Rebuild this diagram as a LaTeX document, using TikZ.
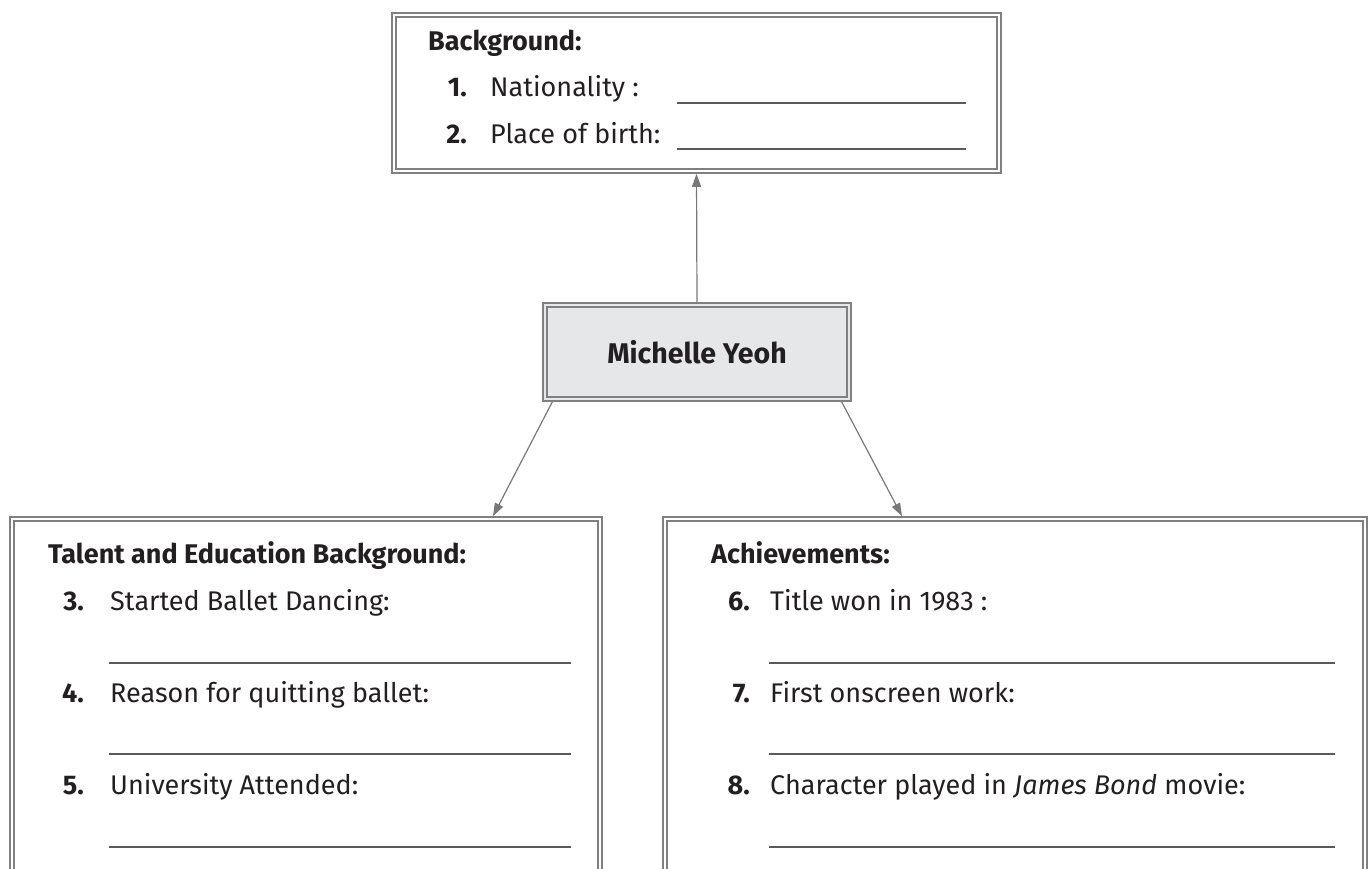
\documentclass[tikz,border=0pt]{standalone}
\usepackage{fontspec}
\setmainfont{Fira Sans}
\usetikzlibrary{arrows.meta}
\definecolor{framegray}{RGB}{128,128,130}
\definecolor{hubfill}{RGB}{230,231,232}
\definecolor{inkblack}{RGB}{35,31,32}
\definecolor{rulegray}{RGB}{90,90,92}
\definecolor{arrowgray}{RGB}{120,120,122}
\newcommand{\sheetsize}{\fontsize{27}{32}\selectfont}
\tikzset{
panel/.style={draw=framegray, line width=1.8pt, double=white, double distance=2pt, outer sep=2.8pt, inner sep=0pt}, % double frame round each box
hubbox/.style={panel, double=hubfill, fill=hubfill, text=inkblack}, % the name in the middle
link/.style={draw=arrowgray, line width=1.2pt, -{Triangle[length=13pt,width=9pt]}}, % arrows out of the middle box
blank/.style={draw=rulegray, line width=1.3pt}, % lines to write on
head/.style={font=\sheetsize\bfseries, text=inkblack, anchor=base west, inner sep=0pt},
num/.style={font=\sheetsize\bfseries, text=inkblack, anchor=base east, inner sep=0pt},
item/.style={text=inkblack, anchor=base west, inner sep=0pt},
}
\begin{document}
\begin{tikzpicture}[x=1pt, y=-1pt, font=\sheetsize]
\useasboundingbox (0,0) rectangle (1371,869);
\clip (0,0) rectangle (1371,869);
\node[panel, minimum width=605pt, minimum height=156pt] (bg) at (696.5,93) {};
\node[hubbox, minimum width=304pt, minimum height=94pt, font=\fontsize{28.5}{33}\selectfont\bfseries] (hub) at (697,352) {Michelle Yeoh};
\node[panel, minimum width=588pt, minimum height=381pt] (talent) at (306,709.5) {};
\node[panel, minimum width=700pt, minimum height=381pt] (achieve) at (1015,709.5) {};
% top box
\node[head] (bgtitle) at (428,51) {Background:};
\node[num] (n1) at (467,97) {1.};
\node[item] (t1) at (490,97) {Nationality :};
\node[num] (n2) at (467,144) {2.};
\node[item] (t2) at (490,144) {Place of birth:};
\draw[blank] (677,103) -- (966,103);
\draw[blank] (677,149) -- (966,149);
% left box
\node[head] (taltitle) at (48,563) {Talent and Education Background:};
\node[num] (n3) at (84,610) {3.};
\node[item] (t3) at (110,610) {Started Ballet Dancing:};
\node[num] (n4) at (84,702) {4.};
\node[item] (t4) at (110,702) {Reason for quitting ballet:};
\node[num] (n5) at (84,794) {5.};
\node[item] (t5) at (110,794) {University Attended:};
\draw[blank] (109,663) -- (571,663);
\draw[blank] (109,754) -- (571,754);
\draw[blank] (109,847) -- (571,847);
% right box
\node[head] (achtitle) at (711,563) {Achievements:};
\node[num] (n6) at (750,610) {6.};
\node[item] (t6) at (770,610) {Title won in 1983 :};
\node[num] (n7) at (750,702) {7.};
\node[item] (t7) at (770,702) {First onscreen work:};
\node[num] (n8) at (750,794) {8.};
\node[item] (t8) at (770,794) {Character played in \textit{James Bond} movie:};
\draw[blank] (769,663) -- (1335,663);
\draw[blank] (769,754) -- (1335,754);
\draw[blank] (769,847) -- (1335,847);
\draw[link] (hub.north) -- (bg.south);
\draw[link] (hub.199) -- ([xshift=187pt]talent.north);
\draw[link] (hub.341) -- ([xshift=-113pt]achieve.north);
\end{tikzpicture}
\end{document}
